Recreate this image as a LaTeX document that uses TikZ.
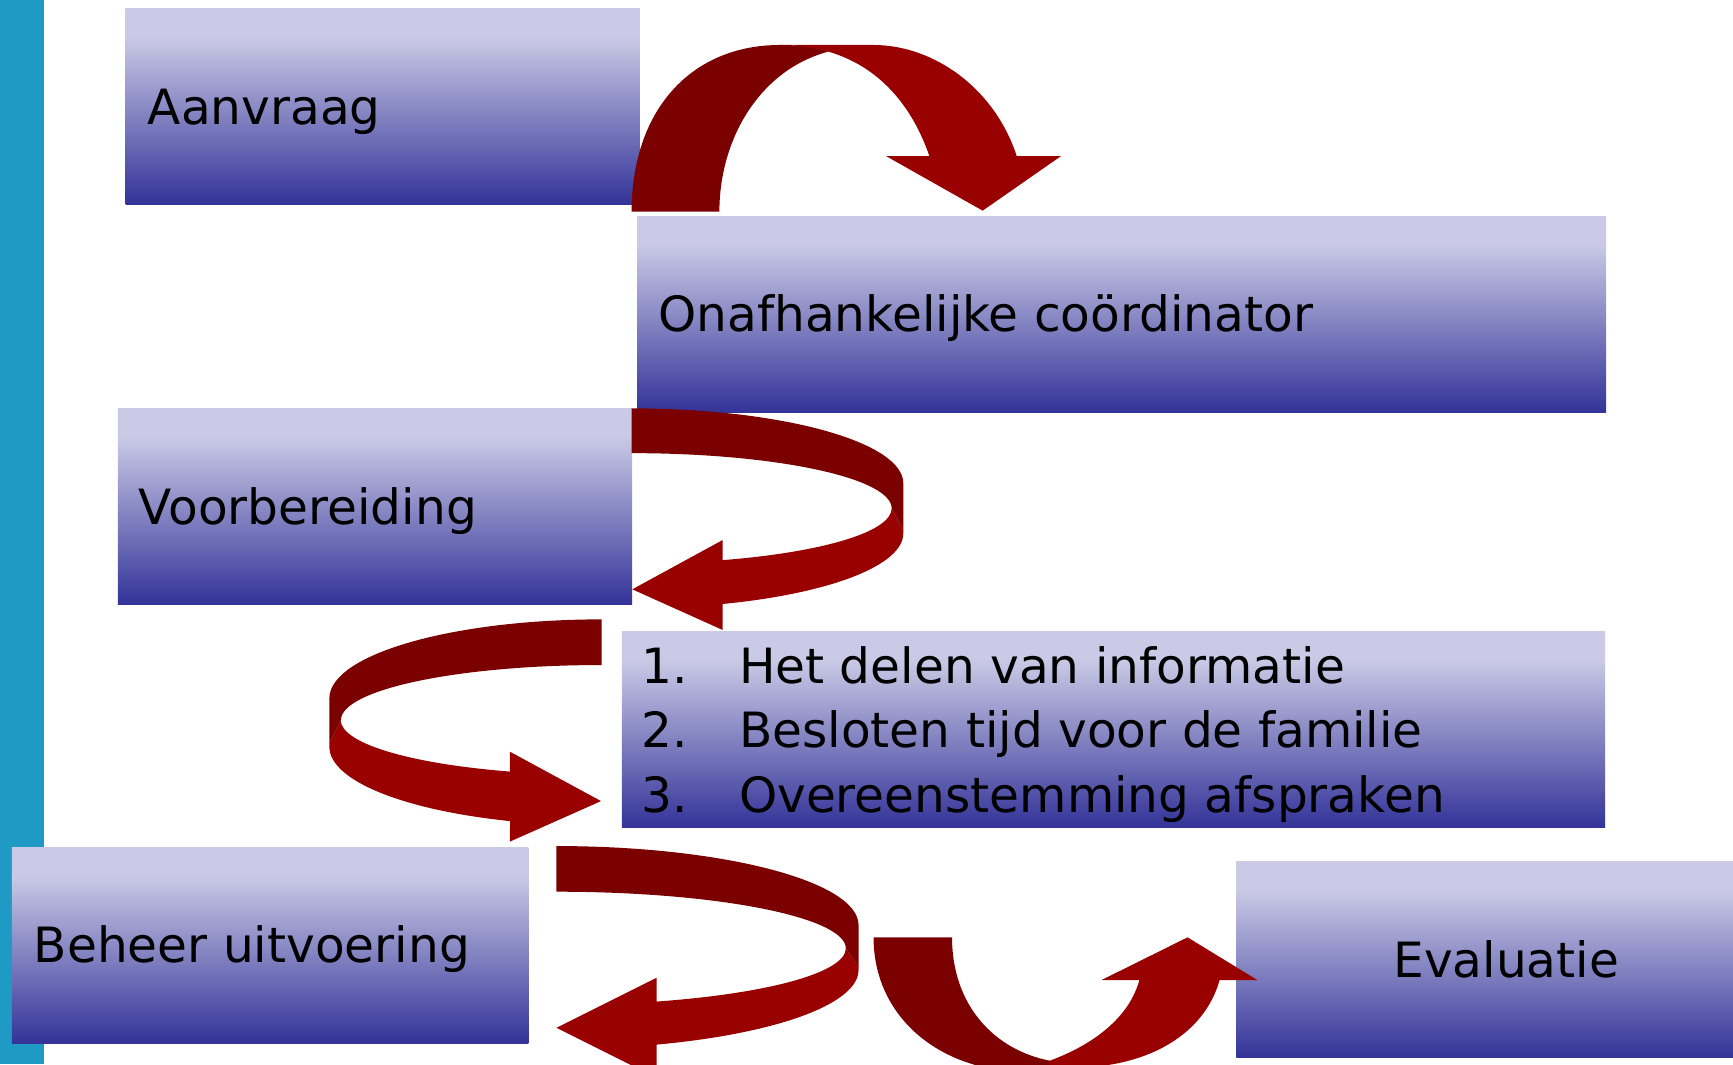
\documentclass[tikz,border=0pt]{standalone}
\usepackage{fontspec}
\setmainfont{DejaVu Sans}

\definecolor{barblue}{RGB}{30,154,196}
\definecolor{boxlight}{RGB}{202,202,230}
\definecolor{boxdark}{RGB}{51,51,153}
\definecolor{ribbondark}{RGB}{123,0,0}
\definecolor{ribbonred}{RGB}{153,0,0}

\pgfdeclareverticalshading{boxshade}{100bp}{color(0bp)=(boxdark); color(25bp)=(boxdark); color(68bp)=(boxlight); color(100bp)=(boxlight)}

\tikzset{stepbox/.style = {shade, shading=boxshade, minimum height=1.77cm, inner sep=0pt, anchor=north west}}

\begin{document}
\begin{tikzpicture}[x=0.01cm, y=-0.01cm]
    % Define node styles
    \tikzstyle{lbl} = [font=\fontsize{12.5}{15}\selectfont, text height=9.1pt, text depth=0pt, inner sep=0pt, anchor=west]
    \tikzstyle{backpart} = [fill=ribbondark]
    \tikzstyle{frontpart} = [fill=ribbonred]

    % Page area and the bar on the left
    \useasboundingbox (0,0) rectangle (1568,963);
    \clip (0,0) rectangle (1568,963);
    \fill[barblue] (0,0) rectangle (40,963);

    % Step boxes (blue gradient)
    \node[stepbox, minimum width=4.65cm] (aanvraag) at (113,7) {};
    \node[stepbox, minimum width=8.76cm] (coordinator) at (576,195) {};
    \node[stepbox, minimum width=4.65cm] (voorbereiding) at (106,369) {};
    \node[stepbox, minimum width=8.89cm] (lijst) at (562,571) {};
    \node[stepbox, minimum width=4.67cm] (beheer) at (10,766) {};
    \node[stepbox, minimum width=4.88cm] (evaluatie) at (1118,779) {};

    % Labels
    \node[lbl] (aanvraagtxt) at ([xshift=0.2cm]aanvraag.west) {Aanvraag};
    \node[lbl] (coordinatortxt) at ([xshift=0.19cm]coordinator.west) {Onafhankelijke coördinator};
    \node[lbl] (voorbereidingtxt) at ([xshift=0.19cm]voorbereiding.west) {Voorbereiding};
    \node[lbl] (item2) at ([xshift=0.18cm]lijst.west) {\makebox[0.88cm][l]{2.}Besloten tijd voor de familie};
    \node[lbl] (item1) at ([yshift=0.575cm]item2.west) {\makebox[0.88cm][l]{1.}Het delen van informatie};
    \node[lbl] (item3) at ([yshift=-0.585cm]item2.west) {\makebox[0.88cm][l]{3.}Overeenstemming afspraken};
    \node[lbl] (beheertxt) at ([xshift=0.2cm]beheer.west) {Beheer uitvoering};
    \node[lbl, anchor=center] (evaluatietxt) at (evaluatie.center) {Evaluatie};

    % Arrow 1: arch from Aanvraag down onto the coordinator box
    \fill[backpart] (571.5,191.5) .. controls (571.5,100) and (625,40.7) .. (705.8,40.7)
        .. controls (725,40.7) and (740,43) .. (749.5,46.7)
        .. controls (688,63) and (650.9,125) .. (650.9,191.5) -- cycle;
    \fill[frontpart] (705.8,40.7) -- (790.2,40.7) .. controls (845,40.7) and (900,80) .. (919.9,141.2)
        -- (960,141.2) -- (889.1,190.6) -- (801.7,141.2) -- (840.9,141.2)
        .. controls (825,95) and (795,60) .. (749.5,46.7)
        .. controls (735,42.5) and (720,40.7) .. (705.8,40.7) -- cycle;

    % Arrow 2: loop on the right, back to Voorbereiding
    \fill[backpart] (571.5,369.5) arc[start angle=-90, end angle=0, x radius=245.8, y radius=67.8]
        -- (817.3,479.5) -- (806.8,460) arc[start angle=0, end angle=-90, x radius=235.3, y radius=50] -- cycle;
    \fill[frontpart] (806.8,460) -- (817.3,479.5) -- (817.3,482.6)
        arc[start angle=0, end angle=70.41, x radius=245.8, y radius=67.8]
        -- (653.9,570) -- (572.1,533.2) -- (653.9,488.6) -- (653.9,506.8)
        arc[start angle=69.5, end angle=0, x radius=235.3, y radius=50] -- cycle;

    % Arrow 3: loop on the left, on to the list
    \fill[backpart] (544.4,560.4) arc[start angle=-90, end angle=-180, x radius=246.4, y radius=71.5]
        -- (298,672.6) -- (308.5,651.5) arc[start angle=180, end angle=270, x radius=235.9, y radius=49.8] -- cycle;
    \fill[frontpart] (308.5,651.5) -- (298,672.6) -- (298,675.6)
        arc[start angle=180, end angle=109.66, x radius=246.4, y radius=71.5]
        -- (461.3,761.5) -- (543.8,724.8) -- (461.3,680.1) -- (461.3,698.1)
        arc[start angle=110.57, end angle=180, x radius=235.9, y radius=49.8] -- cycle;

    % Arrow 4: loop on the right, back to Beheer uitvoering
    \fill[backpart] (503.5,765.5) arc[start angle=-90, end angle=0, x radius=273.3, y radius=71.5]
        -- (776.8,874.7) -- (765.3,858.1) arc[start angle=0, end angle=-90, x radius=261.8, y radius=51.3] -- cycle;
    \fill[frontpart] (765.3,858.1) -- (776.8,874.7) -- (776.8,877.7)
        arc[start angle=0, end angle=70.64, x radius=273.3, y radius=71.5]
        -- (594.1,975.2) -- (503.5,929.9) -- (594.1,884.6) -- (594.1,906.2)
        arc[start angle=69.75, end angle=0, x radius=261.8, y radius=51.3] -- cycle;

    % Arrow 5: dip from Beheer uitvoering up to Evaluatie
    \fill[backpart] (790.4,848.1) -- (861.4,848.1) .. controls (861.4,910) and (900,950) .. (949.8,959.7)
        -- (955,970) -- (930,970) .. controls (850,970) and (790.4,920) .. (790.4,848.1) -- cycle;
    \fill[frontpart] (949.8,959.7) .. controls (990,945) and (1022,920) .. (1030.9,886.7)
        -- (996.7,886.7) -- (1074.5,848.1) -- (1137.6,886.7) -- (1103.5,886.7)
        .. controls (1090,935) and (1040,966) .. (970,966) -- (949.8,970) -- cycle;
\end{tikzpicture}
\end{document}
